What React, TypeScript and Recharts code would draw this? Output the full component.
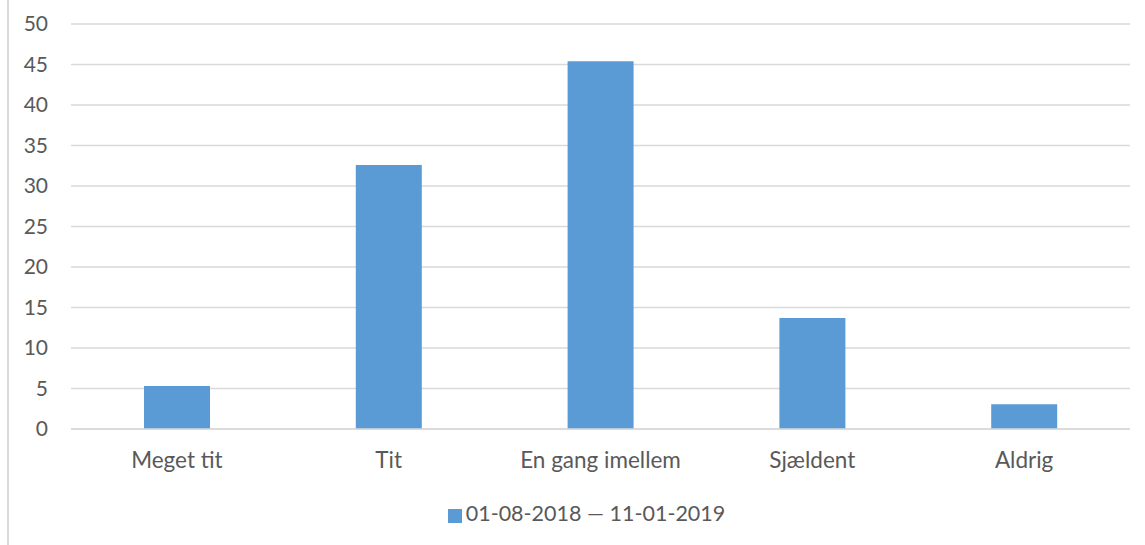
import React from "react";
import { BarChart, Bar, XAxis, YAxis, CartesianGrid, Legend } from "recharts";

const categories = ["Meget tit", "Tit", "En gang imellem", "Sjældent", "Aldrig"];
const values = [5.3, 32.6, 45.4, 13.7, 3.05];
const yTicks = [0, 5, 10, 15, 20, 25, 30, 35, 40, 45, 50];
const seriesName = "01-08-2018 — 11-01-2019";

const data = categories.map((name, i) => ({ name, value: values[i] }));

const FONT = "Lato, 'Liberation Sans', Arial, sans-serif";
const TEXT = "#595959";

export default function App() {
     return (
          <div
               style={{
                    position: "absolute",
                    top: 0,
                    left: 0,
                    width: 1145,
                    height: 545,
                    background: "#fff",
                    fontFamily: FONT,
               }}
          >
               <div
                    style={{
                         position: "absolute",
                         left: 7,
                         top: 0,
                         width: 0,
                         height: 545,
                         borderLeft: "2px solid #d9d9d9",
                    }}
               />
               <BarChart
                    width={1145}
                    height={545}
                    data={data}
                    margin={{ top: 24, right: 15, left: 21, bottom: 9 }}
                    barSize={66}
               >
                    <CartesianGrid vertical={false} stroke="#d9d9d9" strokeWidth={1.5} />
                    <XAxis
                         dataKey="name"
                         axisLine={{ stroke: "#d9d9d9", strokeWidth: 1.5 }}
                         tickLine={false}
                         height={71}
                         tickMargin={17}
                         tick={{ fill: TEXT, fontSize: 22.5, fontFamily: FONT }}
                    />
                    <YAxis
                         width={50}
                         domain={[0, 50]}
                         ticks={yTicks}
                         interval={0}
                         axisLine={false}
                         tickLine={false}
                         tickMargin={17}
                         tick={{ fill: TEXT, fontSize: 21, fontFamily: FONT }}
                    />
                    <Legend
                         verticalAlign="bottom"
                         height={36}
                         iconType="square"
                         iconSize={14}
                         wrapperStyle={{ fontSize: 21.5, fontFamily: FONT, left: 37 }}
                         formatter={(v) => <span style={{ color: TEXT }}>{v}</span>}
                    />
                    <Bar
                         dataKey="value"
                         name={seriesName}
                         fill="#5b9bd5"
                         isAnimationActive={false}
                    />
               </BarChart>
          </div>
     );
}
